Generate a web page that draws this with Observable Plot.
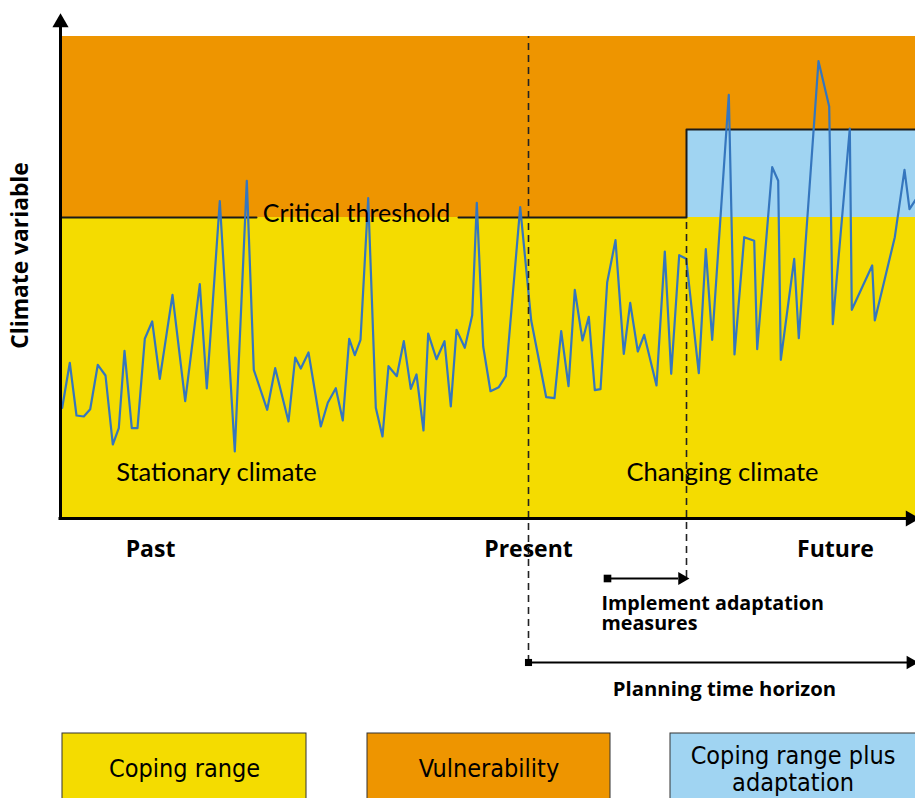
<!DOCTYPE html>
<html>
<head>
<meta charset="utf-8">
<script src="https://cdn.jsdelivr.net/npm/d3@7"></script>
<script src="https://cdn.jsdelivr.net/npm/@observablehq/plot@0.6"></script>
<style>
  html, body { margin: 0; padding: 0; background: #fff; }
  #chart svg { display: block; }
</style>
</head>
<body>
<div id="chart"></div>
<script>
// ---- Data (time steps and climate variable values) ----
const timeSteps = [1.7, 9.3, 16, 23.3, 29.7, 37.3, 45, 52.3, 58.3, 64, 71.3, 77, 84.3, 91.7, 99.3, 112, 124.7, 139.3, 146.3, 159.3, 174.3, 186.3, 193.3, 206.7, 214.7, 228, 234.7, 240.3, 248, 260.3, 267.3, 275.3, 282.3, 288.7, 294.3, 300, 307.7, 315.3, 322, 328, 336.3, 343.3, 350.3, 356, 363, 367.7, 376, 384, 390.3, 396, 404.3, 411.7, 416.3, 422.7, 430, 438.3, 445.3, 459.7, 470.7, 485.7, 494, 500.7, 508, 514.3, 522, 528.3, 534.3, 540, 546.7, 555, 563.3, 569.7, 577.3, 583.7, 596, 604.3, 610.7, 618.7, 625.7, 638.3, 645.3, 651.7, 668.3, 674, 683.7, 693.7, 696.7, 711.7, 717.7, 720.3, 733.7, 738.3, 758, 768.7, 772.3, 789.3, 791.3, 811.7, 814.3, 834.3, 844, 849, 855];
const climateValues = [110.7, 155.7, 103, 102, 109.3, 153.7, 143, 74, 90.3, 167.7, 90.3, 90.3, 179.7, 197, 139.7, 223.7, 117.3, 234.3, 130, 317.3, 67, 337.7, 148.7, 108.7, 150.3, 97, 161, 150, 166, 92, 115.7, 130.3, 98, 179.7, 163.3, 178.7, 320.3, 110.7, 82, 152.3, 142.3, 177.3, 129.7, 144, 88, 185, 159.3, 177.3, 112, 188.7, 170.7, 203.3, 315.7, 172, 127.3, 131.3, 142.3, 311.3, 198, 121.3, 120.3, 187.3, 132.3, 228.7, 178, 201.7, 128.3, 129.3, 236.3, 278.3, 164.7, 215.7, 167, 183.7, 133, 267, 144.7, 263.3, 259.7, 145.3, 269.3, 178.7, 423.7, 164, 281.3, 277.7, 169.3, 351.3, 337.7, 158.7, 259.7, 180.3, 457.3, 412, 194.3, 390, 208.7, 253, 198, 281.3, 348.7, 309.3, 318.7];

// Key levels and times
const criticalThreshold = 301;
const adaptedThreshold = 389;
const vulnerabilityTop = 482;
const presentTime = 468;
const adaptationTime = 626;
const implementStart = 547;
const endTime = 855;

// Labels
const timeLabels = ["Past", "Present", "Future"];
const timeLabelAt = [90, 468, 775];
const regionLabels = ["Stationary climate", "Changing climate"];
const legendLabels = ["Coping range", "Vulnerability", "Coping range plus\nadaptation"];
const legendColors = ["#F4DC00", "#EE9500", "#A0D4F2"];

const series = timeSteps.map((t, i) => ({t, v: climateValues[i]}));

const mainFont = "Lato, 'Open Sans', sans-serif";
const boldFont = "'Open Sans', Lato, sans-serif";
const legendFont = "'Liberation Sans Narrow', 'DejaVu Sans Condensed', 'Liberation Sans', sans-serif";

const thresholdSegments = [
  {t: 0, v: criticalThreshold, s: "a"},
  {t: 196, v: criticalThreshold, s: "a"},
  {t: 398, v: criticalThreshold, s: "b"},
  {t: adaptationTime, v: criticalThreshold, s: "b"},
  {t: adaptationTime, v: adaptedThreshold, s: "b"},
  {t: endTime, v: adaptedThreshold, s: "b"}
];

const legendBoxes = [
  {x1: 2, x2: 246}, {x1: 307, x2: 550}, {x1: 610, x2: 858}
].map((b, i) => ({...b, label: legendLabels[i], color: legendColors[i]}));

const chart = Plot.plot({
  width: 915,
  height: 798,
  marginLeft: 60,
  marginRight: 0,
  marginTop: 0,
  marginBottom: 0,
  x: {domain: [0, 855], axis: null},
  y: {domain: [-280, 518], axis: null},
  style: {background: "#fff", overflow: "hidden"},
  marks: [
    // regions
    Plot.rect([0], {x1: 0, x2: endTime, y1: 0, y2: criticalThreshold, fill: "#F4DC00"}),
    Plot.rect([0], {x1: 0, x2: endTime, y1: criticalThreshold, y2: vulnerabilityTop, fill: "#EE9500"}),
    Plot.rect([0], {x1: adaptationTime, x2: endTime, y1: criticalThreshold, y2: adaptedThreshold, fill: "#A0D4F2"}),
    // threshold step line
    Plot.line(thresholdSegments, {x: "t", y: "v", z: "s", stroke: "#1a1a1a", strokeWidth: 2}),
    // climate series
    Plot.line(series, {x: "t", y: "v", stroke: "#3576BE", strokeWidth: 2.2}),
    // dashed verticals
    Plot.ruleX([presentTime], {y1: -144, y2: vulnerabilityTop, stroke: "#222", strokeWidth: 1.6, strokeDasharray: "7,5"}),
    Plot.ruleX([adaptationTime], {y1: -59, y2: criticalThreshold, stroke: "#222", strokeWidth: 1.6, strokeDasharray: "7,5"}),
    // axes
    Plot.ruleY([0], {x1: -1.5, x2: 850, stroke: "#000", strokeWidth: 3}),
    Plot.ruleX([0], {y1: -1.5, y2: 496, stroke: "#000", strokeWidth: 3}),
    Plot.dot([0], {x: 0, y: 496, symbol: "triangle", r: 6, fill: "#000", stroke: null}),
    Plot.dot([0], {x: 850, y: 0, symbol: "triangle", r: 6, fill: "#000", stroke: null, rotate: 90}),
    // implement adaptation arrow
    Plot.ruleY([-60], {x1: implementStart, x2: adaptationTime - 8, stroke: "#000", strokeWidth: 1.8}),
    Plot.dot([0], {x: implementStart, y: -60, symbol: "square", r: 4.3, fill: "#000", stroke: null}),
    Plot.dot([0], {x: adaptationTime - 4.5, y: -60, symbol: "triangle", r: 4.8, fill: "#000", stroke: null, rotate: 90}),
    // planning horizon arrow
    Plot.ruleY([-144], {x1: presentTime, x2: endTime - 6, stroke: "#000", strokeWidth: 1.8}),
    Plot.dot([0], {x: presentTime, y: -144, symbol: "square", r: 4, fill: "#000", stroke: null}),
    Plot.dot([0], {x: endTime - 5, y: -144, symbol: "triangle", r: 5, fill: "#000", stroke: null, rotate: 90}),
    // texts
    Plot.text(["Critical threshold"], {x: 296, y: criticalThreshold + 4, text: d => d, fontSize: 25, fontFamily: mainFont, fill: "#000"}),
    Plot.text(regionLabels, {x: [156, 662], y: 46, text: d => d, fontSize: 25.5, fontFamily: mainFont, fill: "#000"}),
    Plot.text(timeLabels, {x: timeLabelAt, y: -31, text: d => d, fontSize: 23, fontWeight: "bold", fontFamily: boldFont, fill: "#000"}),
    Plot.text(["Implement adaptation\nmeasures"], {x: 541, y: -95, text: d => d, textAnchor: "start", lineHeight: 1.0, fontSize: 19.7, fontWeight: "bold", fontFamily: boldFont, fill: "#000"}),
    Plot.text(["Planning time horizon"], {x: 664, y: -171, text: d => d, fontSize: 20.3, fontWeight: "bold", fontFamily: boldFont, fill: "#000"}),
    Plot.text(["Climate variable"], {x: -40, y: 263, text: d => d, rotate: -90, fontSize: 22.8, fontWeight: "bold", fontFamily: boldFont, fill: "#000"}),
    // legend boxes
    Plot.rect(legendBoxes, {x1: "x1", x2: "x2", y1: -300, y2: -215, fill: "color", stroke: "#333", strokeWidth: 1}),
    Plot.text(legendBoxes, {x: d => (d.x1 + d.x2) / 2 - (d.x2 > 855 ? 1.5 : 0), y: -250, text: "label", lineHeight: 1.1, fontSize: 25, fontFamily: legendFont, fill: "#000"})
  ]
});
document.getElementById("chart").appendChild(chart);
</script>
</body>
</html>
